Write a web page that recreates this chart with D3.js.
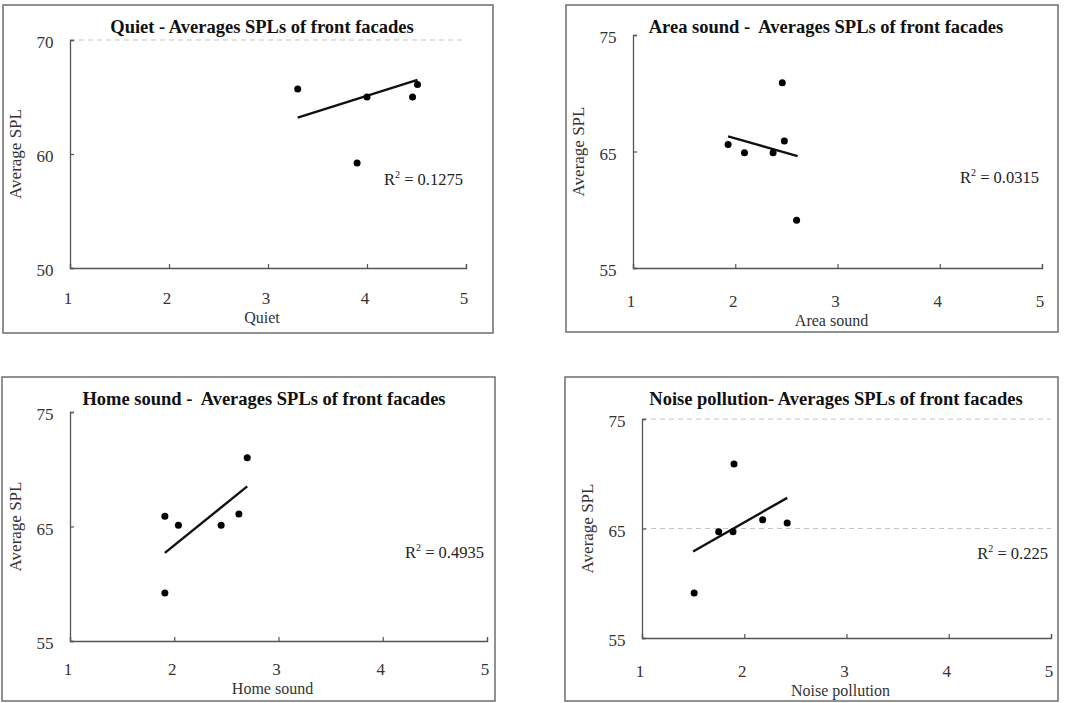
<!DOCTYPE html>
<html>
<head>
<meta charset="utf-8">
<script src="https://cdn.jsdelivr.net/npm/d3@7"></script>
<style>
  html, body { margin: 0; padding: 0; background: #ffffff; }
  svg { display: block; }
  text { font-family: "Liberation Serif", "Times New Roman", serif; fill: #222; white-space: pre; }
</style>
</head>
<body>
<svg id="chart" width="1081" height="703"></svg>
<script>
// ---------- data ----------
const titles = [
  "Quiet - Averages SPLs of front facades",
  "Area sound -  Averages SPLs of front facades",
  "Home sound -  Averages SPLs of front facades",
  "Noise pollution- Averages SPLs of front facades"
];
const xLabels = ["Quiet", "Area sound", "Home sound", "Noise pollution"];
const yLabel = "Average SPL";
const xTicks = [1, 2, 3, 4, 5];
const yTicksQuiet = [50, 60, 70];
const yTicksOther = [55, 65, 75];
const r2Labels = ["0.1275", "0.0315", "0.4935", "0.225"];

const quietX = [3.30, 3.90, 4.00, 4.46, 4.51];
const quietY = [65.7, 59.2, 65.0, 65.0, 66.1];
const areaX = [1.93, 2.09, 2.37, 2.46, 2.48, 2.60];
const areaY = [65.6, 64.9, 64.9, 70.9, 65.9, 59.1];
const homeX = [1.91, 2.04, 2.45, 2.62, 2.70, 1.91];
const homeY = [65.9, 65.1, 65.1, 66.1, 71.0, 59.2];
const noiseX = [1.51, 1.75, 1.89, 1.90, 2.18, 2.42];
const noiseY = [59.1, 64.7, 64.7, 70.9, 65.8, 65.5];

// trend line end points [x0, x1], [y0, y1]
const quietTrendX = [3.30, 4.51], quietTrendY = [63.2, 66.5];
const areaTrendX = [1.93, 2.61], areaTrendY = [66.3, 64.6];
const homeTrendX = [1.91, 2.70], homeTrendY = [62.7, 68.5];
const noiseTrendX = [1.50, 2.42], noiseTrendY = [62.9, 67.8];

// ---------- layout ----------
const panels = [
  { xs: quietX, ys: quietY, tx: quietTrendX, ty: quietTrendY, yTicks: yTicksQuiet,
    box: [3, 5, 493, 333], plot: { l: 70, r: 466, t: 40, b: 268 }, grid: [70], tcx: 262, tickDy: 36 },
  { xs: areaX, ys: areaY, tx: areaTrendX, ty: areaTrendY, yTicks: yTicksOther,
    box: [566, 5, 1058, 332], plot: { l: 633, r: 1042, t: 35, b: 268 }, grid: [], tcx: 826, tickDy: 39 },
  { xs: homeX, ys: homeY, tx: homeTrendX, ty: homeTrendY, yTicks: yTicksOther,
    box: [2, 377, 495, 701], plot: { l: 70, r: 487, t: 412, b: 641 }, grid: [], tcx: 264, tickDy: 34 },
  { xs: noiseX, ys: noiseY, tx: noiseTrendX, ty: noiseTrendY, yTicks: yTicksOther,
    box: [565, 377, 1058, 701], plot: { l: 642, r: 1051, t: 419, b: 638 }, grid: [75, 65], tcx: 836, tickDy: 39 }
];

const svg = d3.select("#chart");

panels.forEach((p, i) => {
  const g = svg.append("g");
  const P = p.plot;
  const x = d3.scaleLinear().domain([1, 5]).range([P.l, P.r]);
  const y = d3.scaleLinear().domain(d3.extent(p.yTicks)).range([P.b, P.t]);

  // panel border
  g.append("rect")
    .attr("x", p.box[0]).attr("y", p.box[1])
    .attr("width", p.box[2] - p.box[0]).attr("height", p.box[3] - p.box[1])
    .attr("fill", "none").attr("stroke", "#6d6d6d").attr("stroke-width", 1.5);

  // faint dashed gridlines
  p.grid.forEach(v => {
    g.append("line")
      .attr("x1", P.l).attr("x2", P.r).attr("y1", y(v)).attr("y2", y(v))
      .attr("stroke", "#c4c4c4").attr("stroke-width", 1.2)
      .attr("stroke-dasharray", "5,4");
  });

  // axes (ticks pointing inward)
  const xAxis = d3.axisBottom(x).tickValues(xTicks).tickSize(-4).tickFormat("");
  const yAxis = d3.axisLeft(y).tickValues(p.yTicks).tickSize(-4).tickFormat("");
  const gx = g.append("g").attr("transform", `translate(0,${P.b})`).call(xAxis);
  const gy = g.append("g").attr("transform", `translate(${P.l},0)`).call(yAxis);
  [gx, gy].forEach(a => {
    a.select(".domain").attr("stroke", "#555").attr("stroke-width", 1.3);
    a.selectAll(".tick line").attr("stroke", "#555").attr("stroke-width", 1.2);
  });

  // tick labels
  g.selectAll(".xtl").data(xTicks).enter().append("text")
    .attr("x", d => x(d) - 2).attr("y", P.b + p.tickDy)
    .attr("text-anchor", "middle").attr("font-size", 17).style("fill", "#333")
    .text(d => d);
  g.selectAll(".ytl").data(p.yTicks).enter().append("text")
    .attr("x", P.l - 25).attr("y", d => y(d) + 8)
    .attr("text-anchor", "middle").attr("font-size", 17).style("fill", "#333")
    .text(d => d);

  // axis titles
  g.append("text")
    .attr("x", (P.l + P.r) / 2 - 6).attr("y", P.b + p.tickDy + 19)
    .attr("text-anchor", "middle").attr("font-size", 16).style("fill", "#333")
    .text(xLabels[i]);
  g.append("text")
    .attr("transform", `translate(${P.l - 49},${(P.t + P.b) / 2}) rotate(-90)`)
    .attr("text-anchor", "middle").attr("font-size", 17).style("fill", "#333")
    .text(yLabel);

  // title
  g.append("text")
    .attr("x", p.tcx).attr("y", p.box[1] + 28)
    .attr("text-anchor", "middle").attr("font-size", 18.5).attr("font-weight", "bold")
    .style("fill", "#111")
    .text(titles[i]);

  // R² label
  const r2 = g.append("text")
    .attr("x", P.r - 3).attr("y", P.t + (P.b - P.t) * 0.61 + 6)
    .attr("text-anchor", "end").attr("font-size", 16.5).style("fill", "#222");
  r2.append("tspan").text("R");
  r2.append("tspan").attr("font-size", 10).attr("dy", -7).text("2");
  r2.append("tspan").attr("dy", 7).text(" = " + r2Labels[i]);

  // trend line
  const line = d3.line().x(d => x(d[0])).y(d => y(d[1]));
  g.append("path")
    .datum(p.tx.map((v, k) => [v, p.ty[k]]))
    .attr("d", line).attr("fill", "none")
    .attr("stroke", "#111").attr("stroke-width", 2.4);

  // points
  g.selectAll(".pt").data(p.xs.map((v, k) => [v, p.ys[k]])).enter().append("circle")
    .attr("cx", d => x(d[0])).attr("cy", d => y(d[1])).attr("r", 3.5)
    .attr("fill", "#000");
});
</script>
</body>
</html>
